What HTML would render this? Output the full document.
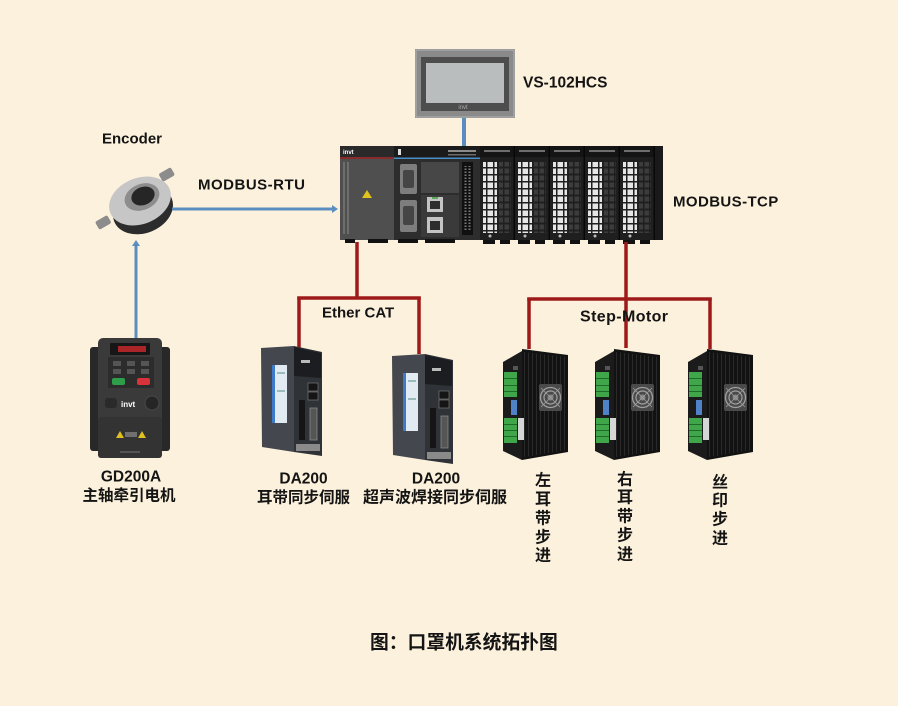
<!DOCTYPE html>
<html><head><meta charset="utf-8">
<style>
html,body{margin:0;padding:0;background:#fcf1dc;}
svg{display:block;}
text{font-family:"Liberation Sans","Noto Sans CJK SC",sans-serif;font-weight:bold;fill:#141414;}
</style></head><body>
<svg width="898" height="706" viewBox="0 0 898 706" xmlns="http://www.w3.org/2000/svg">
<defs>
<pattern id="term" patternUnits="userSpaceOnUse" width="7" height="7"><rect x="0.5" y="0.5" width="5.5" height="5.5" fill="#e6e6e6"/></pattern>
<pattern id="termd" patternUnits="userSpaceOnUse" width="6" height="7"><rect x="0.5" y="0.5" width="4.5" height="5" fill="#3c3c3c"/></pattern>
<pattern id="fins" patternUnits="userSpaceOnUse" width="4" height="10"><rect x="0" y="0" width="1" height="10" fill="#2a2a2a"/></pattern>
<pattern id="pins" patternUnits="userSpaceOnUse" width="4" height="3"><rect x="0.5" y="0.5" width="2" height="1.5" fill="#777"/></pattern>
<g id="io">
<rect x="0" y="146" width="35" height="94" fill="#1f1f1f"/>
<rect x="0" y="146" width="35" height="11" fill="#141414"/>
<rect x="4" y="150" width="26" height="2" fill="#aaa" opacity=".6"/>
<rect x="33.5" y="146" width="1.5" height="94" fill="#080808"/>
<rect x="3" y="162" width="14" height="71" fill="url(#term)"/>
<rect x="19" y="162" width="12" height="71" fill="url(#termd)"/>
<circle cx="10" cy="236" r="1.5" fill="#bbb"/>
<rect x="3" y="240" width="12" height="4" fill="#111"/>
<rect x="20" y="240" width="10" height="4" fill="#111"/>
</g>
<g id="step">
<polygon points="503,362 522,351 522,460 503,451" fill="#1b1b1b"/>
<polygon points="522,349 568,355 568,452 522,460" fill="#121212"/>
<polygon points="524,352 566,357 566,450 524,457" fill="url(#fins)"/>
<rect x="539" y="384" width="23" height="27" rx="2" fill="#4a4a4a"/>
<circle cx="550.5" cy="397.5" r="10" fill="none" stroke="#a0a0a0" stroke-width="1.3"/>
<circle cx="550.5" cy="397.5" r="6.5" fill="none" stroke="#a0a0a0" stroke-width="1.2"/>
<circle cx="550.5" cy="397.5" r="3" fill="#888"/>
<line x1="541" y1="388" x2="560" y2="407" stroke="#999" stroke-width="0.8"/>
<line x1="560" y1="388" x2="541" y2="407" stroke="#999" stroke-width="0.8"/>
<rect x="504" y="372" width="13" height="25" fill="#3fa64a"/>
<rect x="504" y="378" width="13" height="1" fill="#1f6a28"/>
<rect x="504" y="385" width="13" height="1" fill="#1f6a28"/>
<rect x="504" y="391" width="13" height="1" fill="#1f6a28"/>
<rect x="511" y="400" width="6" height="15" fill="#4f82c8"/>
<rect x="504" y="418" width="13" height="25" fill="#3fa64a"/>
<rect x="504" y="424" width="13" height="1" fill="#1f6a28"/>
<rect x="504" y="430" width="13" height="1" fill="#1f6a28"/>
<rect x="504" y="436" width="13" height="1" fill="#1f6a28"/>
<rect x="518" y="418" width="6" height="22" fill="#d6d6d6"/>
<rect x="513" y="366" width="5" height="4" fill="#555"/>
</g>
<g id="da">
<polygon points="261,348 294,346 294,452 262,447" fill="#44474d"/>
<polygon points="294,346 322,352 322,456 294,452" fill="#2f3237"/>
<polygon points="294,347 321,353 321,378 294,376" fill="#1c1d20"/>
<rect x="272" y="365" width="15" height="58" fill="#e2eaf2"/>
<rect x="272" y="365" width="3" height="58" fill="#3d7ac8"/>
<rect x="277" y="372" width="8" height="2" fill="#9bb"/>
<rect x="277" y="390" width="8" height="2" fill="#9bb"/>
<rect x="301" y="360" width="9" height="3" fill="#bbb"/>
<rect x="308" y="383" width="10" height="8" fill="#151515" stroke="#777" stroke-width="0.7"/>
<rect x="308" y="392" width="10" height="8" fill="#151515" stroke="#777" stroke-width="0.7"/>
<rect x="310" y="408" width="7" height="32" fill="#555" stroke="#888" stroke-width="0.8"/>
<rect x="299" y="400" width="6" height="40" fill="#151515"/>
<rect x="296" y="444" width="24" height="7" fill="#8a8a8a"/>
</g>
</defs>
<rect width="898" height="706" fill="#fcf1dc"/>

<!-- HMI -->
<rect x="415" y="49" width="100" height="69" fill="#8a8a8a"/>
<rect x="416" y="50" width="98" height="67" fill="none" stroke="#b4b4b4" stroke-width="1"/>
<rect x="421" y="57" width="88" height="54" fill="#4d4d4d"/>
<rect x="426" y="63" width="78" height="40" fill="#b9bdbd"/>
<text x="463" y="109" font-size="6" fill="#aaa" text-anchor="middle" style="fill:#aaa;font-weight:normal">invt</text>
<rect x="462" y="118" width="4" height="28" fill="#5b8ec0"/>

<!-- PLC -->
<rect x="340" y="146" width="323" height="94" fill="#262626"/>
<rect x="340" y="146" width="54" height="94" fill="#4f4f4f"/>
<rect x="340" y="146" width="54" height="11" fill="#2a2a2a"/>
<rect x="340" y="157" width="54" height="2" fill="#8a2b2b"/>
<text x="343" y="154" font-size="6" style="fill:#fff">invt</text>
<rect x="343" y="162" width="2" height="72" fill="#6e6e6e"/>
<rect x="347" y="162" width="2" height="72" fill="#6e6e6e"/>
<polygon points="367,190 372,198 362,198" fill="#e2c21c"/>
<rect x="394" y="146" width="86" height="94" fill="#2d2d2d"/>
<rect x="394" y="146" width="86" height="12" fill="#1b1b1b"/>
<rect x="398" y="149" width="3" height="6" fill="#ddd"/>
<rect x="448" y="150" width="28" height="2" fill="#bbb" opacity=".7"/>
<rect x="448" y="154" width="28" height="1.5" fill="#bbb" opacity=".5"/>
<rect x="394" y="157.5" width="269" height="1.5" fill="#4a8ec8"/>
<rect x="400" y="164" width="17" height="30" rx="2" fill="#7d7d7d"/>
<rect x="403" y="170" width="11" height="18" rx="2" fill="#454545"/>
<rect x="400" y="200" width="17" height="32" rx="2" fill="#7d7d7d"/>
<rect x="403" y="206" width="11" height="19" rx="2" fill="#454545"/>
<rect x="421" y="162" width="38" height="31" fill="#474747"/>
<rect x="421" y="195" width="38" height="42" fill="#3a3a3a"/>
<rect x="427" y="197" width="16" height="15" fill="#c4c4c4"/>
<rect x="430" y="201" width="10" height="8" fill="#2d2d2d"/>
<rect x="427" y="217" width="16" height="16" fill="#c4c4c4"/>
<rect x="430" y="221" width="10" height="9" fill="#2d2d2d"/>
<rect x="432" y="197" width="6" height="2" fill="#5aaa5a"/>
<rect x="462" y="162" width="11" height="73" fill="#101010"/>
<rect x="464" y="166" width="7" height="65" fill="url(#pins)"/>
<rect x="345" y="239" width="10" height="4" fill="#111"/>
<rect x="368" y="239" width="20" height="4" fill="#111"/>
<rect x="398" y="239" width="20" height="4" fill="#111"/>
<rect x="425" y="239" width="30" height="4" fill="#111"/>
<use href="#io" x="480"/>
<use href="#io" x="515"/>
<use href="#io" x="550"/>
<use href="#io" x="585"/>
<use href="#io" x="620"/>
<rect x="655" y="146" width="8" height="94" fill="#1a1a1a"/>

<!-- Encoder -->
<rect x="160" y="170" width="14" height="9" rx="2" fill="#8c8c8c" transform="rotate(-30 167 175)"/>
<rect x="96" y="218" width="14" height="9" rx="2" fill="#8c8c8c" transform="rotate(-30 103 222)"/>
<ellipse cx="143" cy="210" rx="31" ry="23" fill="#2c2c2c" transform="rotate(-22 143 210)"/>
<ellipse cx="140" cy="201" rx="32" ry="23" fill="#c6c6c6" transform="rotate(-22 140 201)"/>
<ellipse cx="142" cy="197" rx="18" ry="13" fill="#8d8d8d" transform="rotate(-22 142 197)"/>
<ellipse cx="143" cy="196" rx="12" ry="9" fill="#262626" transform="rotate(-22 143 196)"/>

<!-- blue arrows -->
<line x1="172" y1="209" x2="333" y2="209" stroke="#5b8ec0" stroke-width="3"/>
<polygon points="332,205 338,209 332,213" fill="#5b8ec0"/>
<line x1="136" y1="339" x2="136" y2="245" stroke="#5b8ec0" stroke-width="3"/>
<polygon points="132,246 136,240 140,246" fill="#5b8ec0"/>

<!-- GD200A -->
<rect x="90" y="347" width="80" height="104" rx="3" fill="#282828"/>
<rect x="98" y="338" width="64" height="120" rx="5" fill="#3a3a3a"/>
<rect x="110" y="343" width="40" height="12" rx="1" fill="#161616"/>
<rect x="118" y="346" width="28" height="6" fill="#c3282b" opacity=".85"/>
<rect x="108" y="357" width="46" height="31" fill="#2c2c2c"/>
<rect x="113" y="361" width="8" height="5" fill="#555"/>
<rect x="127" y="361" width="8" height="5" fill="#555"/>
<rect x="141" y="361" width="8" height="5" fill="#555"/>
<rect x="113" y="369" width="8" height="5" fill="#555"/>
<rect x="127" y="369" width="8" height="5" fill="#555"/>
<rect x="141" y="369" width="8" height="5" fill="#555"/>
<rect x="112" y="378" width="13" height="7" rx="2" fill="#2f9e4a"/>
<rect x="137" y="378" width="13" height="7" rx="2" fill="#d8323a"/>
<text x="121" y="407" font-size="8" style="fill:#fff">invt</text>
<rect x="105" y="398" width="12" height="10" rx="3" fill="#2a2a2a"/>
<circle cx="152" cy="403" r="7" fill="#252525" stroke="#484848"/>
<rect x="98" y="417" width="64" height="41" rx="3" fill="#333"/>
<polygon points="120,431 124,438 116,438" fill="#e0c020"/>
<polygon points="142,431 146,438 138,438" fill="#e0c020"/>
<rect x="125" y="432" width="12" height="5" fill="#999" opacity=".6"/>
<rect x="120" y="451" width="20" height="2" fill="#555"/>

<!-- red connectors -->
<g stroke="#9e1a1a" stroke-width="3.5" fill="none">
<line x1="357" y1="242" x2="357" y2="298"/>
<line x1="297.25" y1="298" x2="420.75" y2="298"/>
<line x1="299" y1="296.5" x2="299" y2="348"/>
<line x1="419" y1="296.5" x2="419" y2="354"/>
<line x1="626" y1="242" x2="626" y2="348"/>
<line x1="527.25" y1="299" x2="711.75" y2="299"/>
<line x1="529" y1="297.5" x2="529" y2="349"/>
<line x1="710" y1="297.5" x2="710" y2="349"/>
</g>

<!-- DA200 drives -->
<use href="#da"/>
<use href="#da" x="131" y="8"/>

<!-- step drivers -->
<use href="#step"/>
<use href="#step" x="92"/>
<use href="#step" x="185"/>

<!-- labels -->
<g dominant-baseline="central">
<text x="523" y="83" font-size="15.5">VS-102HCS</text>
<text x="102" y="139" font-size="15">Encoder</text>
<text x="198" y="185" font-size="15" letter-spacing="0.5">MODBUS-RTU</text>
<text x="673" y="202" font-size="15" letter-spacing="0.4">MODBUS-TCP</text>
<text x="322" y="313" font-size="15">Ether CAT</text>
<text x="580" y="317" font-size="16" letter-spacing="0.4">Step-Motor</text>
<text x="131" y="477" font-size="15.5" text-anchor="middle">GD200A</text>
<text x="129" y="496" font-size="15.5" text-anchor="middle">主轴牵引电机</text>
<text x="303.5" y="479" font-size="15.5" text-anchor="middle">DA200</text>
<text x="303.5" y="498" font-size="15.5" text-anchor="middle">耳带同步伺服</text>
<text x="436" y="479" font-size="15.5" text-anchor="middle">DA200</text>
<text x="435" y="498" font-size="16" text-anchor="middle">超声波焊接同步伺服</text>
<g font-size="16" text-anchor="middle">
<text x="543" y="481">左</text>
<text x="543" y="500">耳</text>
<text x="543" y="519">带</text>
<text x="543" y="538">步</text>
<text x="543" y="556">进</text>
<text x="625" y="480">右</text>
<text x="625" y="498">耳</text>
<text x="625" y="517">带</text>
<text x="625" y="536">步</text>
<text x="625" y="555">进</text>
<text x="720" y="483">丝</text>
<text x="720" y="501">印</text>
<text x="720" y="520">步</text>
<text x="720" y="539">进</text>
</g>
<text x="370" y="642" font-size="18.8">图：口罩机系统拓扑图</text>
</g>
</svg>
</body></html>
